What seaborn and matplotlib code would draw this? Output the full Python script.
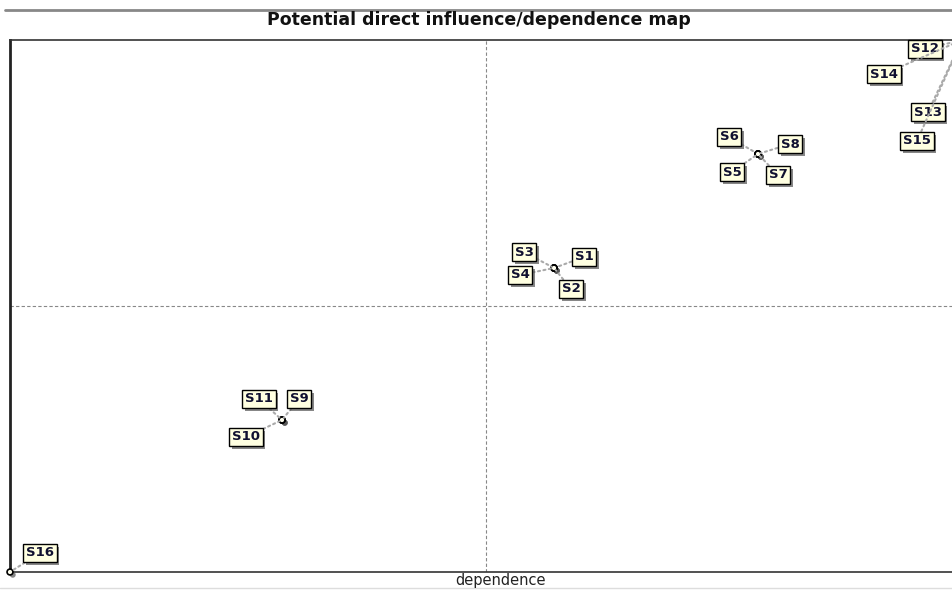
import pandas as pd
import seaborn as sns
import matplotlib.pyplot as plt
import matplotlib.patheffects as pe
from matplotlib.lines import Line2D

sns.set_style("white")
plt.rcParams["font.family"] = ["DejaVu Sans"]

# -------------------------------
# DATA
# -------------------------------
names = ["S1", "S2", "S3", "S4", "S5", "S6", "S7", "S8",
         "S9", "S10", "S11", "S12", "S13", "S14", "S15", "S16"]
dependence = [8, 8, 8, 8, 11, 11, 11, 11, 4, 4, 4, 14, 14, 14, 14, 0]
influence = [8, 8, 8, 8, 11, 11, 11, 11, 4, 4, 4, 14, 14, 14, 14, 0]

# label offsets in pixels (where the box sits relative to its point)
label_dx = [30, 17, -30, -34, -26, -29, 20, 32, 17, -36, -23, -37, -34, -78, -45, 30]
label_dy = [11, -21, 16, -7, -18, 17, -21, 10, 21, -17, 21, -9, -72, -34, -101, 19]

df = pd.DataFrame({"name": names, "dependence": dependence, "influence": influence})
x_max, y_max = 14, 14

# -------------------------------
# FIGURE
# -------------------------------
W, H = 952, 590
fig = plt.figure(figsize=(W / 100, H / 100), dpi=100)
# frame continues past the right edge of the picture
ax = fig.add_axes([10 / W, 18 / H, 952 / W, 532 / H])

ax.axvline(x_max / 2, color="#888888", lw=0.8, ls=(0, (3, 2)), zorder=1)
ax.axhline(y_max / 2, color="#888888", lw=0.8, ls=(0, (3, 2)), zorder=1)

shadow = [pe.SimplePatchShadow(offset=(2, -2), shadow_rgbFace="#555555", alpha=0.7), pe.Normal()]

sns.scatterplot(data=df, x="dependence", y="influence", ax=ax, s=18,
                color="#fffff0", edgecolor="black", linewidth=1.2,
                zorder=5, clip_on=False, legend=False)
ax.collections[0].set_path_effects(shadow)

for name, x, y, dx, dy in zip(names, dependence, influence, label_dx, label_dy):
    ann = ax.annotate(name, (x, y), xytext=(dx, dy), textcoords="offset pixels",
                      ha="center", va="center", fontsize=9.5, fontweight="bold",
                      color="#101030", annotation_clip=False, zorder=6,
                      bbox=dict(boxstyle="square,pad=0.2", fc="#ffffe1", ec="black", lw=1),
                      arrowprops=dict(arrowstyle="-", ls=":", color="#aaaaaa", lw=1.5,
                                      shrinkA=0, shrinkB=2))
    ann.get_bbox_patch().set_path_effects(shadow)

ax.set_xlim(0, x_max)
ax.set_ylim(0, y_max)
ax.set_xticks([])
ax.set_yticks([])
ax.set_xlabel("")
ax.set_ylabel("")
for side in ["top", "bottom", "right"]:
    ax.spines[side].set_color("#333333")
    ax.spines[side].set_linewidth(1.2)
ax.spines["left"].set_color("#222222")
ax.spines["left"].set_linewidth(2)

fig.text(479 / W, 1 - 20 / H, "Potential direct influence/dependence map",
         ha="center", va="center", fontsize=12.5, fontweight="bold", color="#111111")
fig.text(501 / W, 1 - 580 / H, "dependence", ha="center", va="center",
         fontsize=10.5, color="#222222")

# separator lines at the top and bottom of the picture
fig.add_artist(Line2D([5 / W, 1], [1 - 10 / H, 1 - 10 / H], color="#888888", lw=2))
fig.add_artist(Line2D([0, 1], [1 - 588 / H, 1 - 588 / H], color="#dddddd", lw=1))

fig.savefig("out.png", dpi=100)
